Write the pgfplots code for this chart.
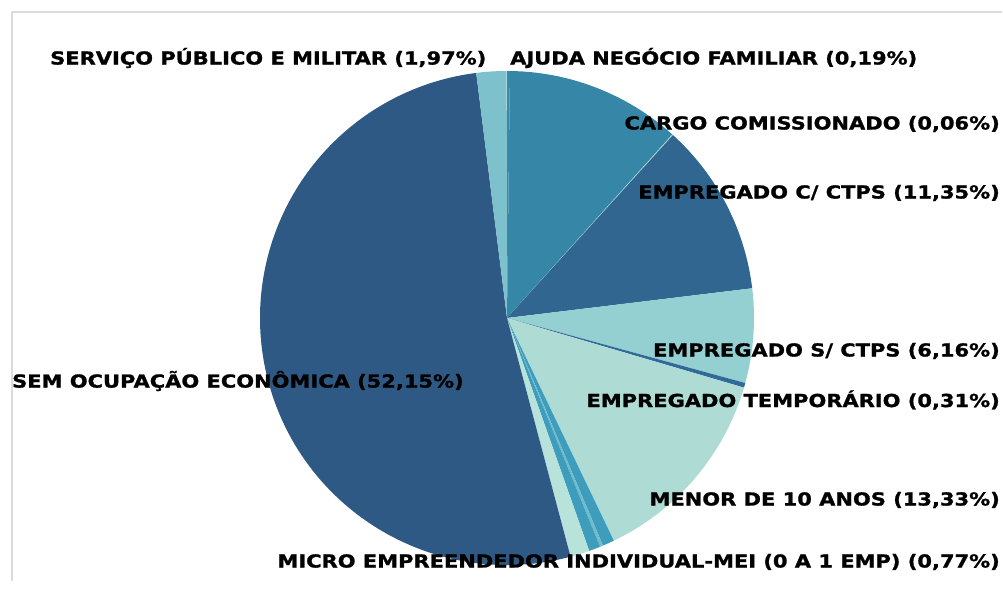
\documentclass[border=0pt]{standalone}
\usepackage{pgfplots}
\usepackage{pgfplotstable}
\pgfplotsset{compat=1.18}
\usepackage{fontspec}
\setmainfont{DejaVu Sans}
\newfontfamily\labfont{DejaVu Sans}[FakeStretch=1.17, BoldFeatures={FakeBold=1.2}]
\definecolor{cSem}{HTML}{2E5984}
\definecolor{cServ}{HTML}{7CC1CB}
\definecolor{cAjuda}{HTML}{3889AA}
\definecolor{cApos}{HTML}{3686A8}
\definecolor{cCargo}{HTML}{A6D6D6}
\definecolor{cEmpC}{HTML}{30668F}
\definecolor{cEmpS}{HTML}{94CFD2}
\definecolor{cTemp}{HTML}{2F6A98}
\definecolor{cMenor}{HTML}{AEDCD5}
\definecolor{cMicro}{HTML}{3E9DBD}
\definecolor{cOutA}{HTML}{6FBCCB}
\definecolor{cOutB}{HTML}{3E9DBD}
\definecolor{cMint}{HTML}{B7E3DA}
\definecolor{frameg}{HTML}{DCDCDC}
% slices clockwise from 12 o'clock (percent)
\pgfplotstableread{
pct col
0.19 cAjuda
11.48 cApos
0.06 cCargo
11.35 cEmpC
6.16 cEmpS
0.31 cTemp
13.33 cMenor
0.77 cMicro
0.20 cOutA
0.75 cOutB
1.26 cMint
52.15 cSem
1.97 cServ
}\piedata
\begin{document}
\begin{tikzpicture}
\begin{axis}[x=1bp,y=1bp,xmin=0,xmax=1003,ymin=0,ymax=581,
  hide axis, clip=false, scale only axis, anchor=origin, at={(0,0)}]
\path (axis cs:0,0) rectangle (axis cs:1003,581);
\pgfplotstablegetrowsof{\piedata}
\pgfmathtruncatemacro\N{\pgfplotsretval-1}
\gdef\cum{0}
\foreach \i in {0,...,\N}{
  \pgfplotstablegetelem{\i}{pct}\of\piedata \let\p\pgfplotsretval
  \pgfplotstablegetelem{\i}{col}\of\piedata \let\c\pgfplotsretval
  \pgfmathsetmacro\sa{90-3.6*\cum}
  \pgfmathsetmacro\ea{90-3.6*(\cum+\p)}
  \edef\temp{\noexpand\fill[\c] (axis cs:507,263) -- ([shift={(\sa:247bp)}]axis cs:507,263) arc[start angle=\sa, end angle=\ea, radius=247bp] -- cycle;}
  \temp
  \pgfmathsetmacro\newcum{\cum+\p}
  \xdef\cum{\newcum}
}
\draw[frameg, line width=2bp] (axis cs:12,0) -- (axis cs:12,569) -- (axis cs:1002,569);
\tikzset{lab/.style={font=\labfont\fontsize{18}{20}\selectfont\bfseries, inner sep=0pt, text=black}}
\node[lab, anchor=west] at (axis cs:50,523) {SERVIÇO PÚBLICO E MILITAR (1,97\%)};
\node[lab, anchor=west] at (axis cs:510,523) {AJUDA NEGÓCIO FAMILIAR (0,19\%)};
\node[lab, anchor=east] at (axis cs:1000,457) {CARGO COMISSIONADO (0,06\%)};
\node[lab, anchor=east] at (axis cs:1000,388) {EMPREGADO C/ CTPS (11,35\%)};
\node[lab, anchor=east] at (axis cs:1000,230) {EMPREGADO S/ CTPS (6,16\%)};
\node[lab, anchor=east] at (axis cs:1000,181) {EMPREGADO TEMPORÁRIO (0,31\%)};
\node[lab, anchor=east] at (axis cs:1000,81) {MENOR DE 10 ANOS (13,33\%)};
\node[lab, anchor=east] at (axis cs:1000,19) {MICRO EMPREENDEDOR INDIVIDUAL-MEI (0 A 1 EMP) (0,77\%)};
\node[lab, anchor=west] at (axis cs:12,200) {SEM OCUPAÇÃO ECONÔMICA (52,15\%)};
\end{axis}
\end{tikzpicture}
\end{document}
